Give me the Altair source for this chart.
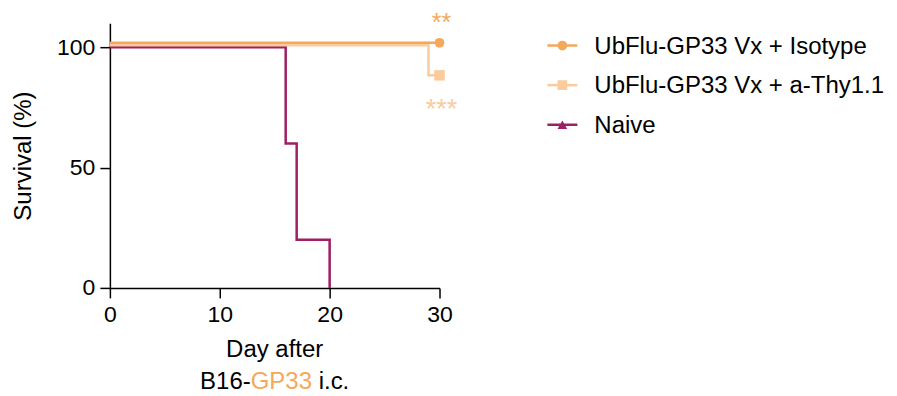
import altair as alt
import pandas as pd

names = ["UbFlu-GP33 Vx + Isotype", "UbFlu-GP33 Vx + a-Thy1.1", "Naive"]
colors = ["#F5A85A", "#FACB9C", "#9E1F63"]
shapes = ["circle", "square", "triangle-up"]

iso_days = [0, 30]
iso_surv = [100, 100]
thy_days = [0, 29, 30]
thy_surv = [100, 87.5, 87.5]
naive_days = [0, 16, 17, 20]
naive_surv = [100, 60, 20, 0]

# censored end-of-study markers
cens_series = [names[0], names[1]]
cens_days = [30, 30]
cens_surv = [100, 87.5]

star_labels = ["**", "***"]

x_ticks = [0, 10, 20, 30]
y_ticks = [0, 50, 100]

FONT = "Liberation Sans"

rows = []
for s, d, v in [(names[0], iso_days, iso_surv), (names[1], thy_days, thy_surv), (names[2], naive_days, naive_surv)]:
    for a, b in zip(d, v):
        rows.append({"series": s, "day": a, "surv": b})
df = pd.DataFrame(rows)
cens = pd.DataFrame({"series": cens_series, "day": cens_days, "surv": cens_surv, "label": star_labels})
leg = pd.DataFrame({"series": names})

color = alt.Color("series:N", scale=alt.Scale(domain=names, range=colors), legend=None)
shape = alt.Shape("series:N", scale=alt.Scale(domain=names, range=shapes), legend=None)

xs = alt.X("day:Q", scale=alt.Scale(domain=[0, 30], nice=False),
           axis=alt.Axis(values=x_ticks, title=None, labelPadding=6, labelFlush=False))
ys = alt.Y("surv:Q", scale=alt.Scale(domain=[0, 110], nice=False),
           axis=alt.Axis(values=y_ticks, title="Survival (%)", titleFontSize=24,
                         titleFontWeight="normal", titleColor="black", titlePadding=21,
                         titleFont=FONT, labelPadding=5, labelFlush=False))

base = alt.Chart(df)
offsets = {names[0]: -4.5, names[1]: -2, names[2]: 0}

layers = []
for s in [names[2], names[1], names[0]]:
    layers.append(base.transform_filter(alt.datum.series == s)
                  .mark_line(interpolate="step-after", strokeWidth=2.5, yOffset=offsets[s], clip=False)
                  .encode(x=xs, y=ys, color=color))

cbase = alt.Chart(cens)
for i, s in enumerate(cens_series):
    sub = cbase.transform_filter(alt.datum.series == s)
    layers.append(sub.mark_point(filled=True, opacity=1, size=[95, 110][i], yOffset=offsets[s])
                  .encode(x=xs, y=ys, color=color, shape=shape))
    layers.append(sub.mark_text(fontSize=[25, 27][i], font=FONT, baseline="alphabetic", align="center",
                                dx=2, dy=[-12, 43][i], yOffset=offsets[s])
                  .encode(x=xs, y=ys, text="label:N", color=color))

# two-line x title, with GP33 coloured
tdf = pd.DataFrame({"a": [0]})
tb = alt.Chart(tdf)
layers.append(tb.mark_text(text="Day after", fontSize=24, font=FONT, baseline="alphabetic", align="center", color="black")
              .encode(x=alt.value(165), y=alt.value(334)))
layers.append(tb.mark_text(text="B16-", fontSize=24, font=FONT, baseline="alphabetic", align="right", color="black")
              .encode(x=alt.value(141), y=alt.value(366)))
layers.append(tb.mark_text(text="GP33", fontSize=24, font=FONT, baseline="alphabetic", align="left", color=colors[0])
              .encode(x=alt.value(141), y=alt.value(366)))
layers.append(tb.mark_text(text="i.c.", fontSize=24, font=FONT, baseline="alphabetic", align="left", color="black")
              .encode(x=alt.value(209), y=alt.value(366)))

main = alt.layer(*layers)

# point scale keeps its default outer padding of half a step
ly = alt.Y("series:N", scale=alt.Scale(domain=names, range=[2.5, 121.5]), axis=None)
lb = alt.Chart(leg)
legend = alt.layer(
    lb.mark_rule(strokeWidth=2.5).encode(x=alt.value(438), x2=alt.value(468), y=ly, color=color),
    lb.mark_point(filled=True, opacity=1, size=95).encode(x=alt.value(453), y=ly, color=color, shape=shape),
    lb.mark_text(fontSize=24, font=FONT, align="left", baseline="middle", color="black", dy=1)
      .encode(x=alt.value(485), y=ly, text="series:N"),
)

chart = alt.layer(main, legend).resolve_scale(y="independent").properties(
    width=330, height=265, autosize=alt.AutoSizeParams(type="none"),
    padding={"left": 102, "top": 15, "right": 450, "bottom": 115}
).configure_view(stroke=None).configure_axis(
    domainColor="black", domainWidth=1.5, tickColor="black", tickWidth=1.5, tickSize=10,
    labelFontSize=23, labelColor="black", labelFont=FONT, grid=False
)

chart.save("out.html", embed_options={"renderer": "svg", "actions": False})
